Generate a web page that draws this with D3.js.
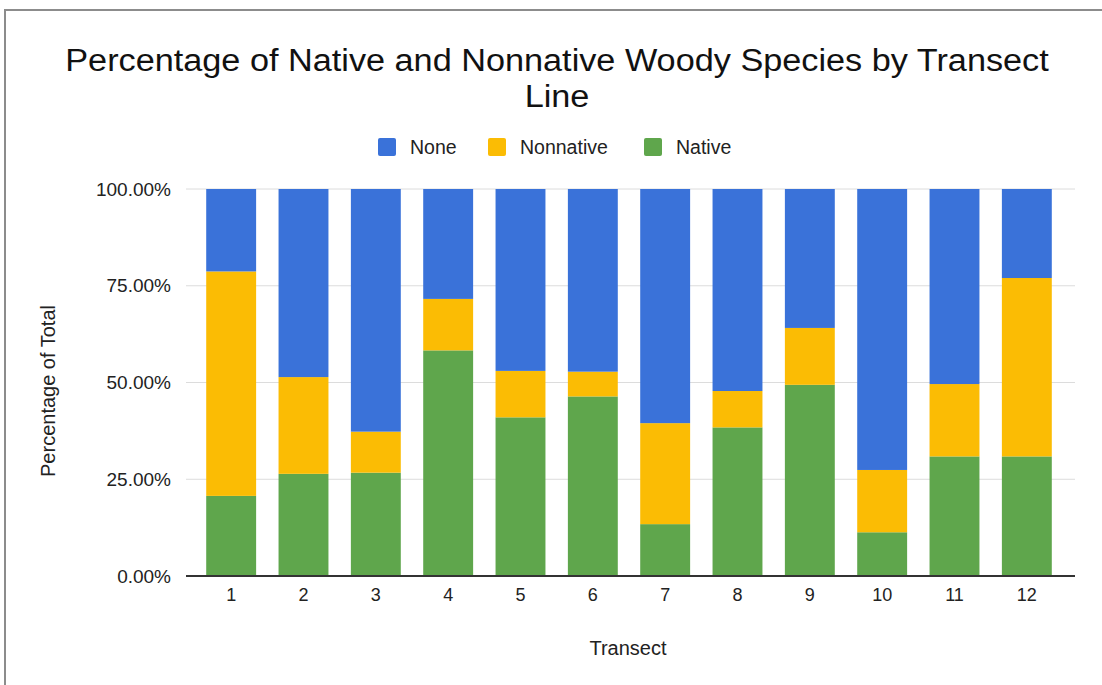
<!DOCTYPE html>
<html>
<head>
<meta charset="utf-8">
<script src="https://cdn.jsdelivr.net/npm/d3@7"></script>
<style>
  html, body { margin: 0; padding: 0; background: #fff; }
  svg { display: block; font-family: "Liberation Sans", Arial, sans-serif; }
</style>
</head>
<body>
<svg id="chart" width="1102" height="685"></svg>
<script>
// Transect lines and the share of each cover class (percent of total)
const transects = ["1", "2", "3", "4", "5", "6", "7", "8", "9", "10", "11", "12"];
const native    = [20.7, 26.4, 26.7, 58.3, 41.0, 46.4, 13.4, 38.4, 49.4, 11.3, 30.9, 30.9];
const nonnative = [58.0, 25.0, 10.6, 13.3, 12.0,  6.4, 26.1,  9.4, 14.7, 16.1, 18.7, 46.1];
const none      = [21.3, 48.6, 62.7, 28.4, 47.0, 47.2, 60.5, 52.2, 35.9, 72.6, 50.4, 23.0];
const yTicks = [0, 25, 50, 75, 100];

const seriesNames = ["Native", "Nonnative", "None"];
const colors = { "None": "#3a72d9", "Nonnative": "#fbbc04", "Native": "#5fa64c" };

const rows = transects.map((t, i) => ({ transect: t, Native: native[i], Nonnative: nonnative[i], None: none[i] }));

const svg = d3.select("#chart");
const fontFamily = "'Liberation Sans', Arial, sans-serif";

// outer frame
svg.append("path")
  .attr("d", "M5,690 L5,10 L1110,10")
  .attr("fill", "none").attr("stroke", "#8c8c8c").attr("stroke-width", 2);

// title, two lines, slightly widened glyphs
const title = svg.append("g").attr("transform", "translate(557,0) scale(1.105,1)")
  .append("text").attr("text-anchor", "middle").attr("font-size", 31).attr("fill", "#111");
title.append("tspan").attr("x", 0).attr("y", 71).text("Percentage of Native and Nonnative Woody Species by Transect");
title.append("tspan").attr("x", 0).attr("y", 107).text("Line");

const x = d3.scaleBand().domain(transects).range([195, 1063]).paddingInner(0.31).paddingOuter(0.155);
const y = d3.scaleLinear().domain([0, 100]).range([576, 189]);
const plotLeft = 186, plotRight = 1075;

// gridlines
svg.append("g").selectAll("line").data(yTicks.filter(d => d > 0)).join("line")
  .attr("x1", plotLeft).attr("x2", plotRight)
  .attr("y1", d => y(d)).attr("y2", d => y(d))
  .attr("stroke", "#dcdcdc").attr("stroke-width", 1);

// y axis labels
const yAxis = svg.append("g").attr("transform", "translate(171,0)")
  .call(d3.axisLeft(y).tickValues(yTicks).tickSize(0).tickPadding(0).tickFormat(d => d3.format(".2f")(d) + "%"));
yAxis.select(".domain").remove();
yAxis.selectAll("text").attr("font-size", 19).attr("fill", "#222").attr("font-family", fontFamily);

// stacked bars
const stacked = d3.stack().keys(seriesNames)(rows);
svg.append("g").selectAll("g").data(stacked).join("g")
  .attr("fill", s => colors[s.key])
  .selectAll("rect").data(s => s).join("rect")
  .attr("x", d => x(d.data.transect))
  .attr("width", x.bandwidth())
  .attr("y", d => y(d[1]))
  .attr("height", d => y(d[0]) - y(d[1]));

// baseline
svg.append("line").attr("x1", plotLeft).attr("x2", plotRight)
  .attr("y1", y(0)).attr("y2", y(0)).attr("stroke", "#333").attr("stroke-width", 2);

// x axis labels
const xAxis = svg.append("g").attr("transform", `translate(0,${y(0) + 12})`)
  .call(d3.axisBottom(x).tickSize(0).tickPadding(0));
xAxis.select(".domain").remove();
xAxis.selectAll("text").attr("font-size", 18).attr("fill", "#222").attr("font-family", fontFamily);

// axis titles
svg.append("text").attr("x", 628).attr("y", 655).attr("text-anchor", "middle")
  .attr("font-size", 20).attr("fill", "#222").text("Transect");
svg.append("text").attr("transform", "translate(55,391) rotate(-90)").attr("text-anchor", "middle")
  .attr("font-size", 20).attr("fill", "#222").text("Percentage of Total");

// legend
const legendItems = [
  { key: "None", x: 378 },
  { key: "Nonnative", x: 488 },
  { key: "Native", x: 644 }
];
const lg = svg.append("g").selectAll("g").data(legendItems).join("g")
  .attr("transform", d => `translate(${d.x},138)`);
lg.append("rect").attr("width", 18).attr("height", 18).attr("rx", 2)
  .attr("fill", d => colors[d.key]);
lg.append("text").attr("x", 32).attr("y", 9).attr("dy", "0.35em")
  .attr("font-size", 19.5).attr("fill", "#222").text(d => d.key);
</script>
</body>
</html>
